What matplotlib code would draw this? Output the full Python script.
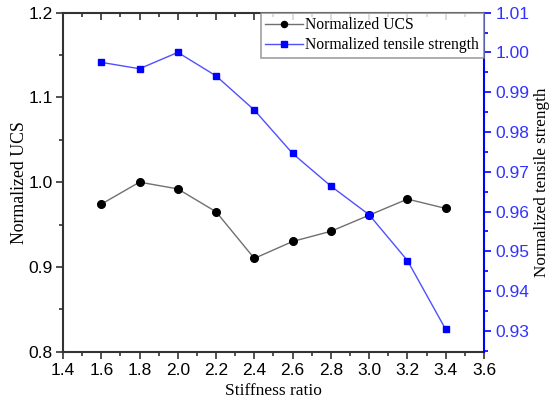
import matplotlib
matplotlib.use("Agg")
import matplotlib.pyplot as plt
from matplotlib.ticker import MultipleLocator
from matplotlib import lines as mlines

stiffness = [1.6, 1.8, 2.0, 2.2, 2.4, 2.6, 2.8, 3.0, 3.2, 3.4]
ucs = [0.974, 1.000, 0.992, 0.965, 0.910, 0.930, 0.942, 0.961, 0.980, 0.969]
tensile = [0.9975, 0.9959, 1.0000, 0.9941, 0.9855, 0.9746, 0.9664, 0.9592, 0.9477, 0.9304]

blue = "#0000ff"
blue_line = "#5050ff"
blue_text = "#3333ff"

fig = plt.figure(figsize=(5.55, 4.07), dpi=100)
ax = fig.add_axes([0.1135, 0.136, 0.7585, 0.833])
ax2 = ax.twinx()

l1, = ax.plot(stiffness, ucs, color="#707070", lw=1.0, marker="o", ms=5.5,
              mfc="black", mec="black", label="Normalized UCS")
l2, = ax2.plot(stiffness, tensile, color=blue_line, lw=1.0, marker="s", ms=5,
               mfc=blue, mec=blue, label="Normalized tensile strength")

ax.set_xlim(1.4, 3.6)
ax.set_ylim(0.8, 1.2)
ax2.set_ylim(0.9248, 1.01)

sans = "Liberation Sans"
serif = "Liberation Serif"

ax.xaxis.set_major_locator(MultipleLocator(0.2))
ax.xaxis.set_minor_locator(MultipleLocator(0.1))
ax.yaxis.set_major_locator(MultipleLocator(0.1))
ax.yaxis.set_minor_locator(MultipleLocator(0.05))
ax2.yaxis.set_major_locator(MultipleLocator(0.01))
ax2.yaxis.set_minor_locator(MultipleLocator(0.005))

ax.xaxis.set_major_formatter(plt.FuncFormatter(lambda v, p: f"{v:.1f}"))
ax.yaxis.set_major_formatter(plt.FuncFormatter(lambda v, p: f"{v:.1f}"))
ax2.yaxis.set_major_formatter(plt.FuncFormatter(lambda v, p: f"{v:.2f}"))

ax.tick_params(axis="x", which="both", direction="out", top=True, bottom=True,
               labelsize=12.5, color="#333333", width=1.2, pad=3)
ax.tick_params(axis="x", which="major", length=5)
ax.tick_params(axis="x", which="minor", length=3)
ax.tick_params(axis="y", which="both", direction="out", right=False,
               labelsize=12.5, color="#333333", width=1.2, pad=2.5)
ax.tick_params(axis="y", which="major", length=5)
ax.tick_params(axis="y", which="minor", length=3)
ax2.tick_params(axis="y", which="both", direction="out", colors=blue, labelcolor=blue_text,
                labelsize=12.5, width=1.2)
ax2.tick_params(axis="y", which="major", length=5)
ax2.tick_params(axis="y", which="minor", length=3)

for lab in ax.get_xticklabels() + ax.get_yticklabels() + ax2.get_yticklabels():
    lab.set_fontfamily(sans)

for s in ["left", "bottom", "top"]:
    ax.spines[s].set_color("#333333")
    ax.spines[s].set_linewidth(1.5)
ax2.spines["right"].set_color(blue)
ax2.spines["right"].set_linewidth(1.5)
ax2.spines["left"].set_visible(False)
ax2.spines["top"].set_visible(False)
ax2.spines["bottom"].set_visible(False)
ax.spines["right"].set_visible(False)

ax.set_xlabel("Stiffness ratio", fontfamily=serif, fontsize=12.5, labelpad=4)
ax.set_ylabel("Normalized UCS", fontfamily=serif, fontsize=12.8, labelpad=0)
ax2.set_ylabel("Normalized tensile strength", fontfamily=serif, fontsize=12.3, labelpad=3)

leg = ax2.legend(handles=[l1, l2], loc="upper right", bbox_to_anchor=(1.0, 1.0),
                 prop={"family": serif, "size": 11.3}, frameon=True, fancybox=False,
                 borderaxespad=0, handlelength=2.4, handletextpad=0.15,
                 borderpad=0.3, labelspacing=0.25, markerscale=0.8)
leg.get_frame().set_edgecolor("#888888")
leg.get_frame().set_linewidth(1.2)

fig.canvas.draw()
for t in ax.xaxis.get_major_ticks() + ax.xaxis.get_minor_ticks():
    t.tick2line.set_marker(mlines.TICKDOWN)

fig.savefig("out.png", dpi=100)
